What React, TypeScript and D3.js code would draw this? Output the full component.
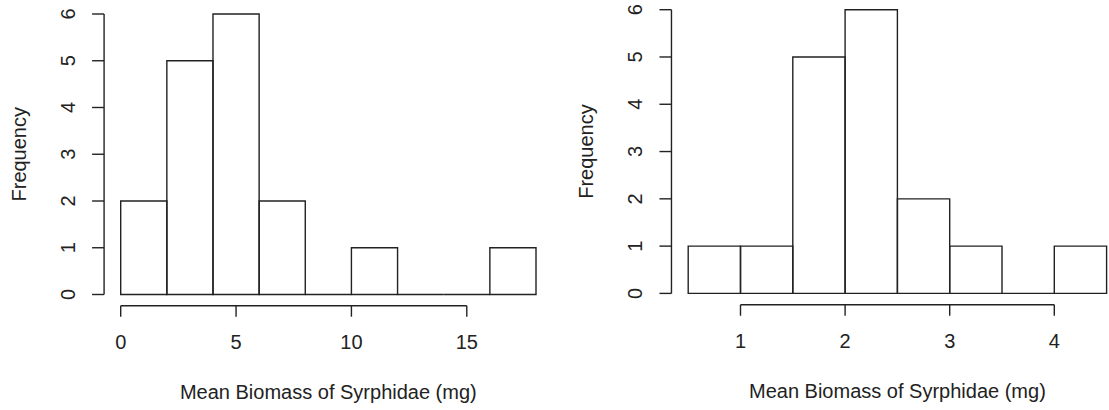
import React from "react";
import * as d3 from "d3";

// Histogram of mean Syrphidae biomass per sample (raw scale, 2 mg bins)
const leftBreaks = [0, 2, 4, 6, 8, 10, 12, 14, 16, 18];
const leftCounts = [2, 5, 6, 2, 0, 1, 0, 0, 1];
const leftXTicks = [0, 5, 10, 15];

// Same data after transformation (0.5 bins)
const rightBreaks = [0.5, 1, 1.5, 2, 2.5, 3, 3.5, 4, 4.5];
const rightCounts = [1, 1, 5, 6, 2, 1, 0, 1];
const rightXTicks = [1, 2, 3, 4];

const yTicks = [0, 1, 2, 3, 4, 5, 6];
const xTitle = "Mean Biomass of Syrphidae (mg)";
const yTitle = "Frequency";

const INK = "#222";
const FONT = "Liberation Sans, Arial, Helvetica, sans-serif";

type PanelProps = {
  breaks: number[];
  counts: number[];
  xTicks: number[];
  xRange: [number, number];
  yRange: [number, number]; // pixel positions of y=0 and y=6
};

function Panel({ breaks, counts, xTicks, xRange, yRange }: PanelProps) {
  const lo = breaks[0];
  const hi = breaks[breaks.length - 1];
  const x = d3.scaleLinear().domain([lo, hi]).range(xRange);
  const y = d3.scaleLinear().domain([0, 6]).range(yRange);
  // R-style 4% padding around the data range
  const padX = (hi - lo) * 0.04;
  const padY = 6 * 0.04;
  const axisX = x(lo - padX);
  const axisY = y(-padY);
  const tick = 11;

  // bins drawn as closed paths so empty bins still show along the baseline
  const binPath = (i: number) => {
    const p = d3.path();
    p.rect(x(breaks[i]), y(counts[i]), x(breaks[i + 1]) - x(breaks[i]), y(0) - y(counts[i]));
    return p.toString();
  };

  return (
    <g fontFamily={FONT} fill={INK}>
      {counts.map((_, i) => (
        <path key={i} d={binPath(i)} fill="none" stroke={INK} strokeWidth={1.4} />
      ))}

      {/* x axis */}
      <line
        x1={x(xTicks[0])}
        x2={x(xTicks[xTicks.length - 1])}
        y1={axisY}
        y2={axisY}
        stroke={INK}
        strokeWidth={1.4}
      />
      {xTicks.map((t) => (
        <g key={t}>
          <line x1={x(t)} x2={x(t)} y1={axisY} y2={axisY + tick} stroke={INK} strokeWidth={1.4} />
          <text x={x(t)} y={axisY + 43} textAnchor="middle" fontSize={20}>
            {t}
          </text>
        </g>
      ))}

      {/* y axis */}
      <line x1={axisX} x2={axisX} y1={y(0)} y2={y(6)} stroke={INK} strokeWidth={1.4} />
      {yTicks.map((t) => (
        <g key={t}>
          <line x1={axisX - tick - 1} x2={axisX} y1={y(t)} y2={y(t)} stroke={INK} strokeWidth={1.4} />
          <text
            transform={`translate(${axisX - 29},${y(t)}) rotate(-90)`}
            textAnchor="middle"
            fontSize={20}
          >
            {t}
          </text>
        </g>
      ))}

      {/* titles */}
      <text
        x={(axisX + x(hi + padX)) / 2}
        y={axisY + 93}
        textAnchor="middle"
        fontSize={20}
      >
        {xTitle}
      </text>
      <text
        transform={`translate(${axisX - 78},${(y(-padY) + y(6 + padY)) / 2}) rotate(-90)`}
        textAnchor="middle"
        fontSize={20}
      >
        {yTitle}
      </text>
    </g>
  );
}

export default function App() {
  return (
    <svg
      width={1109}
      height={410}
      style={{ position: "absolute", left: 0, top: 0, background: "#fff" }}
    >
      <rect width={1109} height={410} fill="#fff" />
      <Panel
        breaks={leftBreaks}
        counts={leftCounts}
        xTicks={leftXTicks}
        xRange={[120.7, 536]}
        yRange={[294.5, 14]}
      />
      <Panel
        breaks={rightBreaks}
        counts={rightCounts}
        xTicks={rightXTicks}
        xRange={[688.2, 1106.6]}
        yRange={[293.4, 9.7]}
      />
    </svg>
  );
}
